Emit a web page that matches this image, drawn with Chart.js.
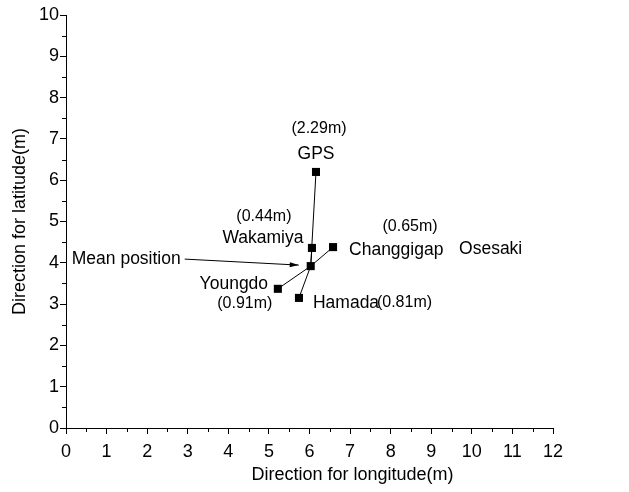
<!DOCTYPE html>
<html>
<head>
<meta charset="utf-8">
<script src="https://cdn.jsdelivr.net/npm/chart.js@4/dist/chart.umd.min.js"></script>
<style>
  html, body { margin: 0; padding: 0; background: #ffffff; }
  #wrap { width: 629px; height: 492px; position: relative; }
</style>
</head>
<body>
<div id="wrap"><canvas id="c" width="629" height="492"></canvas></div>
<script>
// ---- data ----
const stationNames = ['GPS', 'Wakamiya', 'Changgigap', 'Youngdo', 'Hamada'];
const stationLon   = [6.16, 6.06, 6.58, 5.22, 5.74];
const stationLat   = [6.20, 4.36, 4.38, 3.37, 3.15];
const errorLabels  = ['(2.29m)', '(0.44m)', '(0.65m)', '(0.91m)', '(0.81m)'];
const meanLon = 6.03;
const meanLat = 3.92;
const meanLabel = 'Mean position';
const extraLabel = 'Osesaki';
const xTickValues = [0,1,2,3,4,5,6,7,8,9,10,11,12];
const yTickValues = [0,1,2,3,4,5,6,7,8,9,10];
const xTitle = 'Direction for longitude(m)';
const yTitle = 'Direction for latitude(m)';

// ---- label placement (pixel offsets from each marker) ----
const labelLayout = {
  'GPS':        { name: [0, -18, 'center'],  err: [3, -43, 'center'] },
  'Wakamiya':   { name: [-49, -10, 'center'], err: [-48, -31, 'center'] },
  'Changgigap': { name: [16, 3, 'left'],     err: [77, -21, 'center'] },
  'Youngdo':    { name: [-44, -5, 'center'], err: [-33, 15, 'center'] },
  'Hamada':     { name: [14, 5, 'left'],     err: [78, 5, 'left'] }
};
const FONT = '"Liberation Sans", Arial, sans-serif';

// ---- datasets built from arrays ----
const datasets = [];
stationNames.forEach((n, i) => {
  datasets.push({
    type: 'line',
    label: 'spoke ' + n,
    data: [{x: meanLon, y: meanLat}, {x: stationLon[i], y: stationLat[i]}],
    borderColor: '#000',
    borderWidth: 1,
    pointRadius: 0,
    showLine: true,
    fill: false
  });
});
datasets.push({
  type: 'scatter',
  label: 'stations',
  data: stationLon.map((x, i) => ({x: x, y: stationLat[i]})).concat([{x: meanLon, y: meanLat}]),
  pointStyle: 'rect',
  pointRadius: 5.7,
  backgroundColor: '#000',
  borderColor: '#000',
  borderWidth: 0
});

const decorPlugin = {
  id: 'decor',
  afterDraw(chart) {
    const ctx = chart.ctx;
    const xs = chart.scales.x, ys = chart.scales.y;
    const area = chart.chartArea;
    ctx.save();
    // minor ticks
    ctx.strokeStyle = '#000';
    ctx.lineWidth = 1;
    ctx.beginPath();
    for (let i = 0; i < xTickValues.length - 1; i++) {
      const v = (xTickValues[i] + xTickValues[i + 1]) / 2;
      const px = Math.round(xs.getPixelForValue(v)) + 0.5;
      ctx.moveTo(px, area.bottom);
      ctx.lineTo(px, area.bottom + 4);
    }
    for (let i = 0; i < yTickValues.length - 1; i++) {
      const v = (yTickValues[i] + yTickValues[i + 1]) / 2;
      const py = Math.round(ys.getPixelForValue(v)) + 0.5;
      ctx.moveTo(area.left, py);
      ctx.lineTo(area.left - 4, py);
    }
    ctx.stroke();

    // x axis title (placed right of centre as in the reference)
    ctx.fillStyle = '#000';
    ctx.textBaseline = 'middle';
    ctx.textAlign = 'center';
    ctx.font = '18px ' + FONT;
    ctx.fillText(xTitle, (area.left + area.right) / 2 + 43, area.bottom + 47);

    // labels
    stationNames.forEach((n, i) => {
      const px = xs.getPixelForValue(stationLon[i]);
      const py = ys.getPixelForValue(stationLat[i]);
      const L = labelLayout[n];
      ctx.font = '17.5px ' + FONT;
      ctx.textAlign = L.name[2];
      ctx.fillText(n, px + L.name[0], py + L.name[1]);
      ctx.font = '16px ' + FONT;
      ctx.textAlign = L.err[2];
      ctx.fillText(errorLabels[i], px + L.err[0], py + L.err[1]);
    });
    // Osesaki label (right of Changgigap)
    const cx = xs.getPixelForValue(stationLon[2]);
    const cy = ys.getPixelForValue(stationLat[2]);
    ctx.font = '17.5px ' + FONT;
    ctx.textAlign = 'left';
    ctx.fillText(extraLabel, cx + 126, cy + 2);

    // mean position label + arrow
    const mx = xs.getPixelForValue(meanLon);
    const my = ys.getPixelForValue(meanLat);
    ctx.textAlign = 'right';
    ctx.fillText(meanLabel, mx - 130, my - 7);
    const sx = mx - 126, sy = my - 7;
    const tx = mx - 12, ty = my - 1;
    ctx.beginPath();
    ctx.moveTo(sx, sy);
    ctx.lineTo(tx, ty);
    ctx.stroke();
    const ang = Math.atan2(ty - sy, tx - sx);
    ctx.beginPath();
    ctx.moveTo(tx, ty);
    ctx.lineTo(tx - 9 * Math.cos(ang) + 2.5 * Math.sin(ang), ty - 9 * Math.sin(ang) - 2.5 * Math.cos(ang));
    ctx.lineTo(tx - 9 * Math.cos(ang) - 2.5 * Math.sin(ang), ty - 9 * Math.sin(ang) + 2.5 * Math.cos(ang));
    ctx.closePath();
    ctx.fill();
    ctx.restore();
  }
};

new Chart(document.getElementById('c'), {
  type: 'scatter',
  data: { datasets: datasets },
  plugins: [decorPlugin],
  options: {
    responsive: false,
    animation: false,
    events: [],
    layout: { padding: { left: 0, top: 15, right: 76, bottom: 0 } },
    plugins: { legend: { display: false }, tooltip: { enabled: false } },
    scales: {
      x: {
        type: 'linear',
        min: 0, max: 12,
        afterBuildTicks(scale) { scale.ticks = xTickValues.map(v => ({value: v})); },
        afterFit(scale) { scale.height = 64; },
        ticks: { color: '#000', font: { family: FONT, size: 18 }, padding: 7, maxRotation: 0, autoSkip: false },
        grid: { display: true, drawOnChartArea: false, drawTicks: true, tickLength: 6, color: '#000', tickColor: '#000' },
        border: { display: true, color: '#000', width: 1 },
        title: { display: false }
      },
      y: {
        type: 'linear',
        min: 0, max: 10,
        afterBuildTicks(scale) { scale.ticks = yTickValues.map(v => ({value: v})); },
        afterFit(scale) { scale.width = 66; },
        ticks: { color: '#000', font: { family: FONT, size: 18 }, padding: 1, autoSkip: false },
        grid: { display: true, drawOnChartArea: false, drawTicks: true, tickLength: 6, color: '#000', tickColor: '#000' },
        border: { display: true, color: '#000', width: 1 },
        title: { display: true, text: yTitle, color: '#000', font: { family: FONT, size: 18 }, padding: { top: 9, bottom: 0 } }
      }
    }
  }
});
</script>
</body>
</html>
